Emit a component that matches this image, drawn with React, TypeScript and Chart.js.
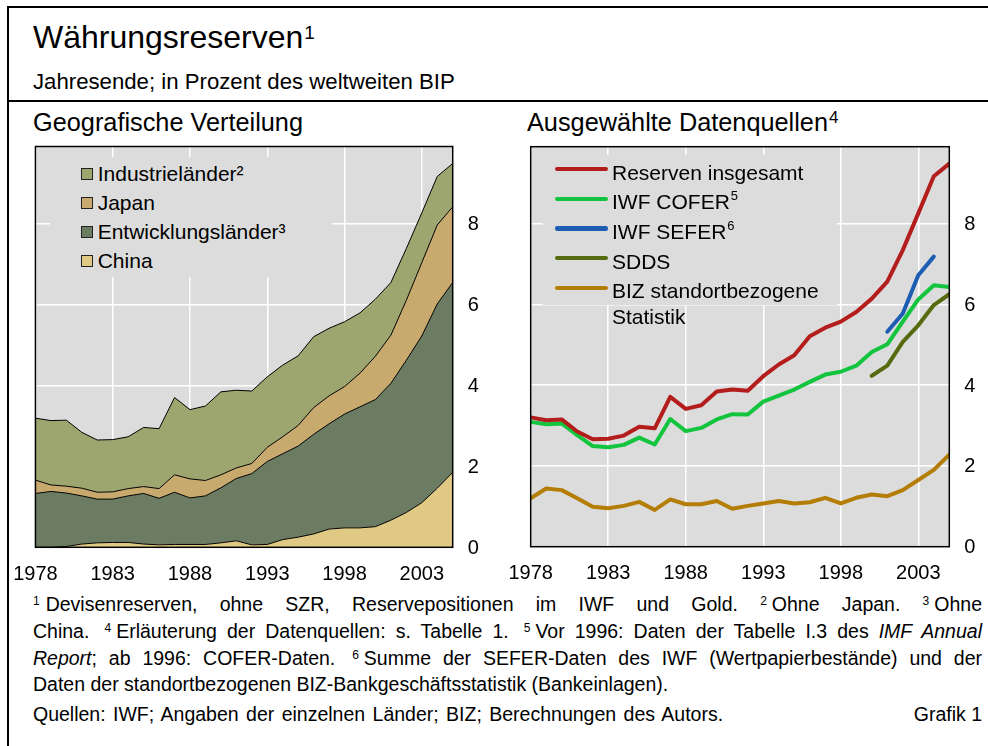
import React, { useEffect, useRef } from "react";
import { Chart, registerables } from "chart.js";

Chart.register(...registerables);

// ---------- data ----------
const years = [
  1978, 1979, 1980, 1981, 1982, 1983, 1984, 1985, 1986, 1987, 1988, 1989, 1990, 1991,
  1992, 1993, 1994, 1995, 1996, 1997, 1998, 1999, 2000, 2001, 2002, 2003, 2004, 2005,
];
const xTickYears = [1978, 1983, 1988, 1993, 1998, 2003];
const yTickValues = [0, 2, 4, 6, 8];

// Left panel: stacked shares (per cent of world GDP)
const china = [
  0.0, 0.0, 0.02, 0.08, 0.11, 0.12, 0.12, 0.08, 0.06, 0.07, 0.07, 0.07, 0.11, 0.16,
  0.06, 0.07, 0.19, 0.25, 0.33, 0.45, 0.48, 0.48, 0.51, 0.67, 0.86, 1.1, 1.46, 1.85,
];
const entwicklungslaender = [
  1.33, 1.38, 1.32, 1.19, 1.08, 1.07, 1.15, 1.25, 1.15, 1.29, 1.15, 1.2, 1.36, 1.54,
  1.76, 2.05, 2.12, 2.25, 2.46, 2.6, 2.81, 2.99, 3.14, 3.38, 3.76, 4.12, 4.55, 4.69,
];
const japan = [
  0.33, 0.16, 0.17, 0.19, 0.17, 0.18, 0.18, 0.17, 0.24, 0.43, 0.47, 0.38, 0.32, 0.26,
  0.25, 0.35, 0.42, 0.51, 0.66, 0.69, 0.68, 0.83, 1.07, 1.19, 1.48, 1.81, 1.95, 1.87,
];
const industrielaender = [
  1.53, 1.59, 1.63, 1.38, 1.29, 1.29, 1.28, 1.46, 1.48, 1.91, 1.71, 1.84, 2.05, 1.92,
  1.79, 1.74, 1.77, 1.72, 1.75, 1.67, 1.6, 1.49, 1.41, 1.3, 1.28, 1.23, 1.2, 1.07,
];

// Right panel: data sources
const reservenInsgesamt = [
  3.2, 3.13, 3.15, 2.85, 2.66, 2.67, 2.75, 2.97, 2.93, 3.71, 3.41, 3.5, 3.84, 3.89,
  3.86, 4.22, 4.51, 4.74, 5.21, 5.42, 5.57, 5.81, 6.14, 6.56, 7.34, 8.25, 9.17, 9.48,
];
const iwfCofer = [
  3.09, 3.03, 3.05, 2.76, 2.49, 2.46, 2.52, 2.7, 2.53, 3.16, 2.86, 2.94, 3.15, 3.28,
  3.27, 3.59, 3.74, 3.89, 4.08, 4.26, 4.33, 4.48, 4.82, 5.01, 5.57, 6.12, 6.47, 6.43,
];
const iwfSefer = [
  null, null, null, null, null, null, null, null, null, null, null, null, null, null,
  null, null, null, null, null, null, null, null, null, 5.32, 5.77, 6.72, 7.18, null,
];
const sdds = [
  null, null, null, null, null, null, null, null, null, null, null, null, null, null,
  null, null, null, null, null, null, null, null, 4.23, 4.48, 5.07, 5.48, 5.98, 6.25,
];
const bizStatistik = [
  1.2, 1.44, 1.4, 1.2, 0.99, 0.95, 1.01, 1.11, 0.91, 1.17, 1.05, 1.05, 1.13, 0.94,
  1.01, 1.07, 1.13, 1.07, 1.1, 1.21, 1.07, 1.21, 1.29, 1.25, 1.4, 1.65, 1.9, 2.28,
];

// ---------- styling ----------
const FONT = '"Liberation Sans", Arial, Helvetica, sans-serif';
const PLOT_BG = "#DCDCDC";

const areaColors = {
  industrie: "#9CA66E",
  japan: "#C8AA6E",
  entwicklung: "#6B7C63",
  china: "#E0C984",
};
const lineColors = {
  reserven: "#B31D1C",
  cofer: "#12C43E",
  sefer: "#1D5DB3",
  sdds: "#566B10",
  biz: "#B47D06",
};

const toXY = (arr: (number | null)[]) => years.map((yr, i) => ({ x: yr, y: arr[i] }));

const framePlugin = {
  id: "plotFrame",
  beforeDraw(chart: any) {
    const { ctx, chartArea } = chart;
    const { left, top, right, bottom } = chartArea;
    ctx.save();
    ctx.fillStyle = PLOT_BG;
    ctx.fillRect(left, top, right - left, bottom - top);
    ctx.restore();
  },
  afterDatasetsDraw(chart: any) {
    const { ctx, chartArea } = chart;
    const { left, top, right, bottom } = chartArea;
    ctx.save();
    ctx.strokeStyle = "#000";
    ctx.lineWidth = 1.5;
    ctx.strokeRect(left, top, right - left, bottom - top);
    ctx.restore();
  },
};

function makeScales(yWidth: number, xHeight: number, stacked: boolean) {
  const tickFont = { size: 20, family: FONT };
  return {
    x: {
      type: "linear",
      min: 1978,
      max: 2005,
      afterBuildTicks: (s: any) => {
        s.ticks = xTickYears.map((v) => ({ value: v }));
      },
      afterFit: (s: any) => {
        s.height = xHeight;
        s.paddingLeft = 0;
        s.paddingRight = 0;
        s.paddingTop = 0;
        s.paddingBottom = 0;
      },
      grid: { color: "#FFFFFF", lineWidth: 1.5, drawTicks: false },
      border: { display: false },
      ticks: {
        padding: 15,
        color: "#000",
        font: tickFont,
        maxRotation: 0,
        autoSkip: false,
        callback: (v: any) => String(v),
      },
    },
    y: {
      position: "right",
      min: 0,
      max: 9.9,
      stacked,
      afterBuildTicks: (s: any) => {
        s.ticks = yTickValues.map((v) => ({ value: v }));
      },
      afterFit: (s: any) => {
        s.width = yWidth;
        s.paddingLeft = 0;
        s.paddingRight = 0;
        s.paddingTop = 0;
        s.paddingBottom = 0;
      },
      grid: { color: "#FFFFFF", lineWidth: 1.5, drawTicks: false },
      border: { display: false },
      ticks: {
        padding: 15,
        labelOffset: 1,
        color: "#000",
        font: tickFont,
        callback: (v: any) => String(v),
      },
    },
  };
}

function LeftChart() {
  const ref = useRef<HTMLCanvasElement | null>(null);
  useEffect(() => {
    if (!ref.current) return;
    const area = (label: string, data: number[], color: string, fill: any) => ({
      label,
      data: toXY(data),
      backgroundColor: color,
      borderColor: "#000",
      borderWidth: 1,
      pointRadius: 0,
      tension: 0,
      fill,
    });
    const chart = new Chart(ref.current, {
      type: "line",
      data: {
        datasets: [
          area("China", china, areaColors.china, "origin"),
          area("Entwicklungsländer³", entwicklungslaender, areaColors.entwicklung, "-1"),
          area("Japan", japan, areaColors.japan, "-1"),
          area("Industrieländer²", industrielaender, areaColors.industrie, "-1"),
        ],
      },
      options: {
        animation: false,
        responsive: false,
        maintainAspectRatio: false,
        devicePixelRatio: 1,
        layout: { padding: { left: 35.45, top: 6.5, right: 0, bottom: 0 } },
        plugins: { legend: { display: false }, tooltip: { enabled: false } },
        scales: makeScales(37.3, 42.7, true) as any,
      },
      plugins: [framePlugin],
    });
    return () => chart.destroy();
  }, []);
  return (
    <canvas
      ref={ref}
      width={490}
      height={450}
      style={{ position: "absolute", left: 0, top: 140, width: 490, height: 450 }}
    />
  );
}

function RightChart() {
  const ref = useRef<HTMLCanvasElement | null>(null);
  useEffect(() => {
    if (!ref.current) return;
    const line = (label: string, data: (number | null)[], color: string) => ({
      label,
      data: toXY(data),
      borderColor: color,
      backgroundColor: color,
      borderWidth: 4,
      borderJoinStyle: "round",
      borderCapStyle: "round",
      pointRadius: 0,
      tension: 0,
      fill: false,
      spanGaps: false,
    });
    const chart = new Chart(ref.current, {
      type: "line",
      data: {
        datasets: [
          line("Reserven insgesamt", reservenInsgesamt, lineColors.reserven),
          line("IWF COFER", iwfCofer, lineColors.cofer),
          line("IWF SEFER", iwfSefer, lineColors.sefer),
          line("SDDS", sdds, lineColors.sdds),
          line("BIZ standortbezogene Statistik", bizStatistik, lineColors.biz),
        ] as any,
      },
      options: {
        animation: false,
        responsive: false,
        maintainAspectRatio: false,
        devicePixelRatio: 1,
        layout: { padding: { left: 40.7, top: 6.7, right: 0, bottom: 0 } },
        plugins: { legend: { display: false }, tooltip: { enabled: false } },
        scales: makeScales(38.7, 43.3, false) as any,
      },
      plugins: [framePlugin],
    });
    return () => chart.destroy();
  }, []);
  return (
    <canvas
      ref={ref}
      width={498}
      height={450}
      style={{ position: "absolute", left: 490, top: 140, width: 498, height: 450 }}
    />
  );
}

const abs = (left: number, top: number, extra: React.CSSProperties = {}): React.CSSProperties => ({
  position: "absolute",
  left,
  top,
  ...extra,
});

function Sup({ n, size, rise, ml = 0, mr = 0 }: { n: string; size: number; rise: number; ml?: number; mr?: number }) {
  return (
    <span
      style={{
        fontSize: size,
        position: "relative",
        top: -rise,
        marginLeft: ml,
        marginRight: mr,
        fontStyle: "normal",
      }}
    >
      {n}
    </span>
  );
}

const leftLegend = [
  { label: "Industrieländer²", color: areaColors.industrie },
  { label: "Japan", color: areaColors.japan },
  { label: "Entwicklungsländer³", color: areaColors.entwicklung },
  { label: "China", color: areaColors.china },
];

const rightLegend: { label: string; sup?: string; color: string }[] = [
  { label: "Reserven insgesamt", color: lineColors.reserven },
  { label: "IWF COFER", sup: "5", color: lineColors.cofer },
  { label: "IWF SEFER", sup: "6", color: lineColors.sefer },
  { label: "SDDS", color: lineColors.sdds },
  { label: "BIZ standortbezogene", color: lineColors.biz },
];

export default function App() {
  const legendFont: React.CSSProperties = { fontSize: 21, lineHeight: "21px", whiteSpace: "nowrap", color: "#000" };
  const noteFont: React.CSSProperties = { fontSize: 19.5, lineHeight: "19.5px", color: "#000" };
  const justifyLine: React.CSSProperties = {
    ...noteFont,
    width: 949,
    textAlign: "justify",
    textAlignLast: "justify",
  };
  return (
    <div
      style={{
        position: "absolute",
        left: 0,
        top: 0,
        width: 988,
        height: 746,
        background: "#fff",
        overflow: "hidden",
        fontFamily: FONT,
        color: "#000",
      }}
    >
      {/* frame lines */}
      <div style={abs(7, 6, { width: 981, height: 2, background: "#000" })} />
      <div style={abs(7, 100, { width: 981, height: 2, background: "#000" })} />
      <div style={abs(7, 6, { width: 2, height: 740, background: "#000" })} />

      {/* titles */}
      <div style={abs(33, 21, { fontSize: 32, lineHeight: "32px", whiteSpace: "nowrap" })}>
        Währungsreserven
        <Sup n="1" size={19} rise={9} ml={1} />
      </div>
      <div style={abs(33, 70.8, { fontSize: 22.2, lineHeight: "22.2px", whiteSpace: "nowrap" })}>
        Jahresende; in Prozent des weltweiten BIP
      </div>
      <div style={abs(33, 110.4, { fontSize: 25.3, lineHeight: "25.3px", whiteSpace: "nowrap" })}>
        Geografische Verteilung
      </div>
      <div style={abs(527, 110.4, { fontSize: 25.3, lineHeight: "25.3px", whiteSpace: "nowrap" })}>
        Ausgewählte Datenquellen
        <Sup n="4" size={17} rise={8} ml={1} />
      </div>

      <LeftChart />
      <RightChart />

      {/* left legend */}
      <div style={abs(50, 156.7, { width: 281.7, height: 120, background: PLOT_BG })} />
      {leftLegend.map((item, i) => {
        const cy = 173.6 + i * 29;
        return (
          <React.Fragment key={item.label}>
            <div
              style={abs(80.7, cy - 6, {
                width: 12,
                height: 12,
                boxSizing: "border-box",
                border: "1px solid #222",
                background: item.color,
              })}
            />
            <div style={abs(97.7, cy - 10.3, legendFont)}>{item.label}</div>
          </React.Fragment>
        );
      })}

      {/* right legend */}
      <div style={abs(543, 155, { width: 294, height: 150, background: PLOT_BG })} />
      {rightLegend.map((item, i) => {
        const cy = 169 + i * 29.7;
        return (
          <React.Fragment key={item.label}>
            <div
              style={abs(555, cy - 2.2, {
                width: 53,
                height: 4.4,
                borderRadius: 2.2,
                background: item.color,
              })}
            />
            <div style={abs(612, cy - 7.5, legendFont)}>
              {item.label}
              {item.sup ? <Sup n={item.sup} size={13} rise={9} ml={1} /> : null}
            </div>
          </React.Fragment>
        );
      })}
      <div style={abs(612, 305.5, legendFont)}>Statistik</div>

      {/* footnotes */}
      <div style={abs(33, 595.2, justifyLine)}>
        <Sup n="1" size={12} rise={6} mr={6} />
        Devisenreserven, ohne SZR, Reservepositionen im IWF und Gold. <Sup n="2" size={12} rise={6} mr={5} />
        Ohne Japan. <Sup n="3" size={12} rise={6} mr={5} />
        Ohne
      </div>
      <div style={abs(33, 621.8, justifyLine)}>
        China. <Sup n="4" size={12} rise={6} ml={5} mr={5} />
        Erläuterung der Datenquellen: s. Tabelle 1. <Sup n="5" size={12} rise={6} ml={5} mr={5} />
        Vor 1996: Daten der Tabelle I.3 des <i>IMF Annual</i>
      </div>
      <div style={abs(33, 648.5, justifyLine)}>
        <i>Report</i>; ab 1996: COFER-Daten. <Sup n="6" size={12} rise={6} ml={5} mr={5} />
        Summe der SEFER-Daten des IWF (Wertpapierbestände) und der
      </div>
      <div style={abs(33, 674.5, { ...noteFont, whiteSpace: "nowrap" })}>
        Daten der standortbezogenen BIZ-Bankgeschäftsstatistik (Bankeinlagen).
      </div>
      <div style={abs(33, 705.2, { ...noteFont, whiteSpace: "nowrap", wordSpacing: 2 })}>
        Quellen: IWF; Angaben der einzelnen Länder; BIZ; Berechnungen des Autors.
      </div>
      <div style={abs(700, 705.2, { ...noteFont, width: 282, textAlign: "right", whiteSpace: "nowrap" })}>
        Grafik 1
      </div>
    </div>
  );
}
